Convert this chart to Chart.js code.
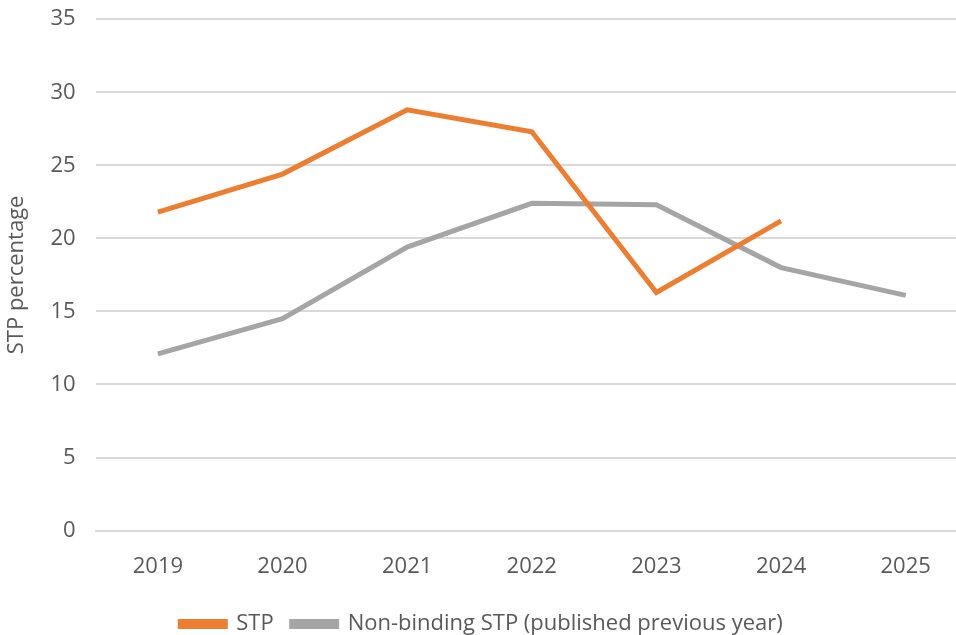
<!DOCTYPE html>
<html>
<head>
<meta charset="utf-8">
<script src="https://cdn.jsdelivr.net/npm/chart.js@4"></script>
<style>
  html, body { margin: 0; padding: 0; background: #fff; overflow: hidden; }
  #wrap { width: 977px; height: 659px; position: relative; top: -14px; left: -9px; }
</style>
</head>
<body>
<div id="wrap"><canvas id="myChart"></canvas></div>
<script>
var years = ["2019", "2020", "2021", "2022", "2023", "2024", "2025"];
var stp = [21.8, 24.4, 28.8, 27.3, 16.3, 21.2, null];
var nonBinding = [12.1, 14.5, 19.4, 22.4, 22.3, 18.0, 16.1];

var font = "'Open Sans', 'Noto Sans', sans-serif";
var textColor = '#595959';

var ctx = document.getElementById("myChart").getContext('2d');
var myChart = new Chart(ctx, {
  type: 'line',
  data: {
    labels: years,
    datasets: [{
      label: 'STP',
      data: stp,
      borderColor: '#ED7D31',
      backgroundColor: '#ED7D31',
      borderWidth: 5,
      pointRadius: 0,
      tension: 0
    }, {
      label: 'Non-binding STP (published previous year)',
      data: nonBinding,
      borderColor: '#A5A5A5',
      backgroundColor: '#A5A5A5',
      borderWidth: 5,
      pointRadius: 0,
      tension: 0
    }]
  },
  options: {
    responsive: true,
    maintainAspectRatio: false,
    animation: false,
    layout: { padding: { top: 0, left: 4, right: 0, bottom: 0 } },
    plugins: {
      legend: {
        position: 'bottom',
        labels: {
          color: textColor,
          font: { family: font, size: 22 },
          boxWidth: 45,
          boxHeight: 5,
          padding: 18
        }
      },
      tooltip: { enabled: false }
    },
    scales: {
      x: {
        offset: true,
        grid: { display: false },
        border: { color: '#d9d9d9', width: 2 },
        ticks: { color: textColor, font: { family: font, size: 22 }, padding: 15 }
      },
      y: {
        min: 0,
        max: 35,
        ticks: { stepSize: 5, color: textColor, font: { family: font, size: 22 }, padding: 20 },
        grid: { color: '#d9d9d9', lineWidth: 2, drawTicks: false },
        border: { display: false },
        title: {
          display: true,
          text: 'STP percentage',
          color: textColor,
          font: { family: font, size: 22 },
          padding: { top: 9, bottom: 0 }
        }
      }
    }
  }
});
</script>
</body>
</html>
